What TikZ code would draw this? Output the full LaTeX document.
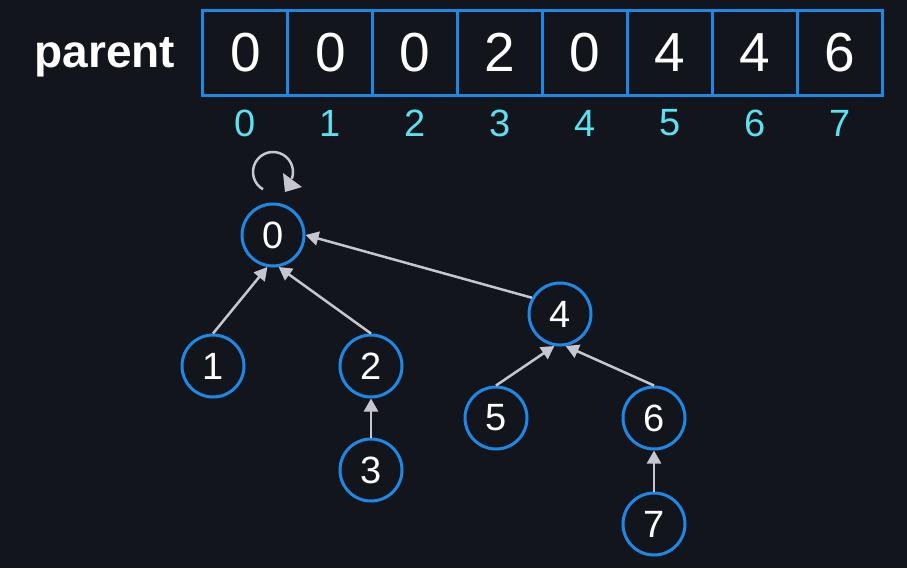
\documentclass[tikz,border=0pt]{standalone}
\usepackage{fontspec}
\setmainfont{Liberation Sans}
\usetikzlibrary{arrows.meta,calc}
\definecolor{bg}{HTML}{13151D}
\definecolor{myblue}{HTML}{1E88E5}
\definecolor{idxcyan}{HTML}{5CE1F0}
\definecolor{edgegray}{HTML}{C6C6CE}
\begin{document}
\begin{tikzpicture}[x=1pt,y=-1pt,
  cell/.style={draw=myblue,line width=3pt,fill=bg,minimum width=84.9pt,minimum height=85pt,inner sep=0pt,text=white,font=\fontsize{55}{55}\selectfont},
  idx/.style={text=idxcyan,font=\fontsize{38}{38}\selectfont,inner sep=0pt},
  vert/.style={circle,draw=myblue,line width=3pt,fill=bg,minimum size=62pt,inner sep=0pt,text=white,font=\fontsize{38}{38}\selectfont},
  edge/.style={draw=edgegray,line width=2.5pt,-{Triangle[width=14pt,length=13pt]}}]
\fill[bg] (0,0) rectangle (907,568);
\useasboundingbox (0,0) rectangle (907,568);
\node[text=white,font=\fontsize{46}{46}\selectfont\bfseries,anchor=base,inner sep=0pt] (lbl) at (105,67) {parent};
\foreach \i/\v in {0/0,1/0,2/0,3/2,4/0,5/4,6/4,7/6}{
  \node[cell] (c\i) at ({203+84.875*(\i+0.5)},52.5) {\v};
  \node[idx] (i\i) at ({203+84.875*(\i+0.5)},123) {\i};
}
\node[vert] (n0) at (273,235) {0};
\node[vert] (n1) at (213,366) {1};
\node[vert] (n2) at (371,366) {2};
\node[vert] (n3) at (371,470) {3};
\node[vert] (n4) at (560,314) {4};
\node[vert] (n5) at (496,418) {5};
\node[vert] (n6) at (654,418) {6};
\node[vert] (n7) at (654,524) {7};
\draw[edge] (n1.north) -- (n0.-100);
\draw[edge] (n2.north) -- (n0.-80);
\draw[edge] (n4.150) -- (n0.east);
\draw[edge] (n3) -- (n2);
\draw[edge] (n5.north) -- (n4.-100);
\draw[edge] (n6.north) -- (n4.-80);
\draw[edge] (n7) -- (n6);
\coordinate (loopc) at (273,172);
\draw[draw=edgegray,line width=2.5pt] ($(loopc)+(-10,17.3)$) arc[start angle=120,end angle=380,radius=20];
\coordinate (ha) at (283,173);
\coordinate (hb) at (302,187);
\coordinate (hc) at (285,192);
\fill[edgegray] (ha) -- (hb) -- (hc) -- cycle;
\end{tikzpicture}
\end{document}
